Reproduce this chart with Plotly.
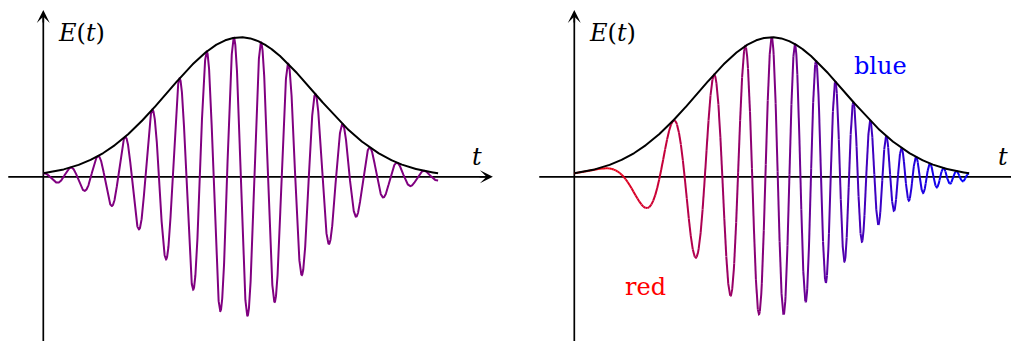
import numpy as np
import plotly.graph_objects as go

# Pulse window and shape parameters (time in arbitrary units)
T_WINDOW = [0.0, 8.0]
PULSE_CENTER = 4.0
ENVELOPE_SIGMA = 1.48
ENVELOPE_PEAK = 1.0
CARRIER_PERIOD = 0.552      # unchirped pulse, left panel
CHIRP_RATE = 1.571          # chirped pulse phase = rate * t^2, right panel
N_SAMPLES = 4001
N_SEGMENTS = 200

# Colours
CARRIER_COLOR = "#800080"
CHIRP_START_RGB = [255, 0, 0]
CHIRP_END_RGB = [0, 0, 255]

# Axis extents (data units)
AXIS_T_SPAN = [-0.71, 9.11]
AXIS_E_SPAN = [-1.35, 1.195]

# Labels
AXIS_LABELS = ["<i>E</i>(<i>t</i>)", "<i>t</i>"]
COLOR_LABELS = ["blue", "red"]

W, H = 1011, 341
FONT = "DejaVu Serif"

t = np.linspace(T_WINDOW[0], T_WINDOW[1], N_SAMPLES)
envelope = ENVELOPE_PEAK * np.exp(-(t - PULSE_CENTER) ** 2 / (2 * ENVELOPE_SIGMA ** 2))
field_plain = -envelope * np.sin(2 * np.pi * (t - PULSE_CENTER) / CARRIER_PERIOD)
field_chirp = envelope * np.cos(CHIRP_RATE * t ** 2)

fig = go.Figure()

# y-range chosen so that E=0 sits at 176.8 px with 139.6 px per unit
px_per_e = 139.6
y0_px = 176.8
y_range = [(y0_px - H) / px_per_e, y0_px / px_per_e]
px_per_t = 49.35


def x_range(domain, axis_px):
    lo = (domain[0] * W - axis_px) / px_per_t
    hi = (domain[1] * W - axis_px) / px_per_t
    return [lo, hi]


panels = [
    dict(xa="x", ya="y", dom=[0.0, 0.5], axis_px=43.3),
    dict(xa="x2", ya="y2", dom=[0.5, 1.0], axis_px=574.3),
]

LINE_W = 2.0
AXIS_W = 1.7

annotations = []
for p in panels:
    # axis lines
    fig.add_trace(go.Scatter(x=[AXIS_T_SPAN[0], AXIS_T_SPAN[1] - 0.1], y=[0, 0],
                             mode="lines", line=dict(color="black", width=AXIS_W),
                             xaxis=p["xa"], yaxis=p["ya"], hoverinfo="skip"))
    fig.add_trace(go.Scatter(x=[0, 0], y=[AXIS_E_SPAN[0], AXIS_E_SPAN[1] - 0.035],
                             mode="lines", line=dict(color="black", width=AXIS_W),
                             xaxis=p["xa"], yaxis=p["ya"], hoverinfo="skip"))
    # arrow heads
    annotations.append(dict(x=AXIS_T_SPAN[1], y=0, ax=AXIS_T_SPAN[1] - 0.3, ay=0,
                            xref=p["xa"], yref=p["ya"], axref=p["xa"], ayref=p["ya"],
                            text="", showarrow=True, arrowhead=3, arrowsize=1.35,
                            arrowwidth=1.6, arrowcolor="black", standoff=0))
    annotations.append(dict(x=0, y=AXIS_E_SPAN[1], ax=0, ay=AXIS_E_SPAN[1] - 0.1,
                            xref=p["xa"], yref=p["ya"], axref=p["xa"], ayref=p["ya"],
                            text="", showarrow=True, arrowhead=3, arrowsize=1.35,
                            arrowwidth=1.6, arrowcolor="black", standoff=0))

# Left: unchirped pulse
fig.add_trace(go.Scatter(x=t, y=field_plain, mode="lines",
                         line=dict(color=CARRIER_COLOR, width=LINE_W),
                         xaxis="x", yaxis="y", hoverinfo="skip"))

# Right: chirped pulse with colour sweeping red -> blue
seg_len = (N_SAMPLES - 1) // N_SEGMENTS
for k in range(N_SEGMENTS):
    i0, i1 = k * seg_len, min((k + 1) * seg_len + 1, N_SAMPLES)
    frac = (t[(i0 + i1 - 1) // 2] - T_WINDOW[0]) / (T_WINDOW[1] - T_WINDOW[0])
    rgb = [round(a + (b - a) * frac) for a, b in zip(CHIRP_START_RGB, CHIRP_END_RGB)]
    fig.add_trace(go.Scatter(x=t[i0:i1], y=field_chirp[i0:i1], mode="lines",
                             line=dict(color=f"rgb({rgb[0]},{rgb[1]},{rgb[2]})", width=LINE_W),
                             xaxis="x2", yaxis="y2", hoverinfo="skip"))

# Envelopes
for p in panels:
    fig.add_trace(go.Scatter(x=t, y=envelope, mode="lines",
                             line=dict(color="black", width=LINE_W),
                             xaxis=p["xa"], yaxis=p["ya"], hoverinfo="skip"))


def text_at(px, py, text, color="black"):
    return dict(x=px / W, y=1 - py / H, xref="paper", yref="paper", text=text,
                showarrow=False, xanchor="center", yanchor="middle",
                font=dict(family=FONT, size=24, color=color))


annotations += [
    text_at(81.5, 33, AXIS_LABELS[0]),
    text_at(612, 33, AXIS_LABELS[0]),
    text_at(477, 157, AXIS_LABELS[1]),
    text_at(1003, 157, AXIS_LABELS[1]),
    text_at(880.3, 66, COLOR_LABELS[0], "#0000ff"),
    text_at(645.8, 287, COLOR_LABELS[1], "#ff0000"),
]

axis_common = dict(visible=False, showgrid=False, zeroline=False, fixedrange=True)
fig.update_layout(
    width=W, height=H,
    margin=dict(l=0, r=0, t=0, b=0),
    paper_bgcolor="white", plot_bgcolor="white",
    showlegend=False,
    font=dict(family=FONT),
    xaxis=dict(domain=panels[0]["dom"], range=x_range(panels[0]["dom"], panels[0]["axis_px"]),
               anchor="y", **axis_common),
    yaxis=dict(domain=[0, 1], range=y_range, anchor="x", **axis_common),
    xaxis2=dict(domain=panels[1]["dom"], range=x_range(panels[1]["dom"], panels[1]["axis_px"]),
                anchor="y2", **axis_common),
    yaxis2=dict(domain=[0, 1], range=y_range, anchor="x2", **axis_common),
    annotations=annotations,
)

fig.write_html("out.html")
